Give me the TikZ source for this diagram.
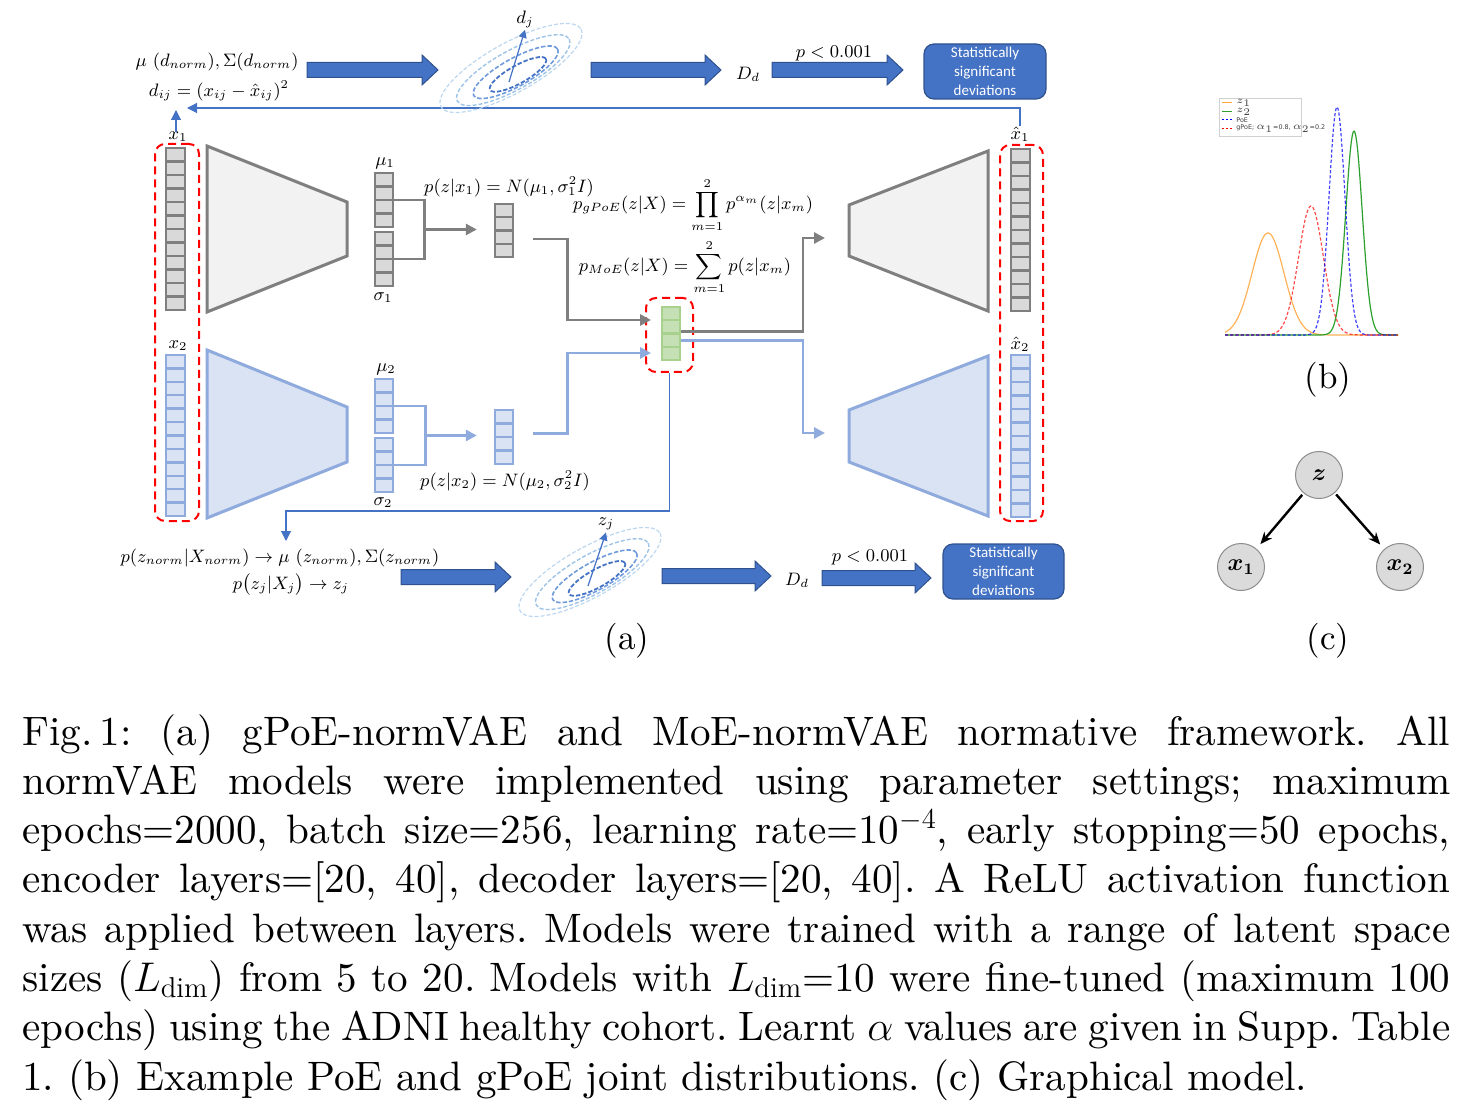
\documentclass[tikz,border=0pt]{standalone}
\usepackage{amsmath,bm}
\usepackage{fontspec}
\usetikzlibrary{arrows.meta,fit,calc}
\newfontfamily\boxfont{Carlito}
\newfontfamily\legfont{DejaVu Sans}
\newfontfamily\capfont{lmroman10-regular.otf}
\definecolor{gline}{HTML}{7F7F7F}
\definecolor{gcell}{HTML}{D9D9D9}
\definecolor{gtrap}{HTML}{F2F2F2}
\definecolor{bline}{HTML}{8FAADC}
\definecolor{bcell}{HTML}{DAE3F3}
\definecolor{gnfill}{HTML}{C5E0B4}
\definecolor{gnline}{HTML}{A9D18E}
\definecolor{accent}{HTML}{4472C4}
\definecolor{accentdk}{HTML}{2F528F}
\definecolor{ellA}{HTML}{BDD7EE}
\definecolor{ellB}{HTML}{9DC3E6}
\definecolor{ellC}{HTML}{6F9BDC}
\definecolor{corange}{HTML}{FFA53A}
\definecolor{cgreen}{HTML}{2CA02C}
\newcommand\cellcol[7]{%
  \node[#7, inner sep=0pt, fit={(#2,#3)(#4,#5)}] (#1) {};
  \pgfmathsetmacro\cdy{(#5-#3)/(#6+1)}
  \foreach \k in {1,...,#6} {\draw[#7] (#2,{#3+\k*\cdy}) -- (#4,{#3+\k*\cdy});}
}
\newcommand\blockarrow[3]{%
  \filldraw[bigarr] (#1,#3-7.5) -- (#2-16,#3-7.5) -- (#2-16,#3-15) -- (#2,#3)
    -- (#2-16,#3+15) -- (#2-16,#3+7.5) -- (#1,#3+7.5) -- cycle;}
\newcommand\ellgroup[2]{%
  \begin{scope}[rotate around={29:(#1,#2)}]
    \draw[ellA, line width=0.6pt, dash pattern=on 2pt off 1pt] (#1,#2) ellipse[x radius=80, y radius=25];
    \draw[ellB, line width=0.7pt, dash pattern=on 2pt off 1pt] (#1+1,#2+3) ellipse[x radius=64, y radius=19.5];
    \draw[ellC, line width=0.8pt, dash pattern=on 2.2pt off 1pt] (#1+2,#2+6) ellipse[x radius=48, y radius=14];
    \draw[accent, line width=0.9pt, dash pattern=on 2.2pt off 1pt] (#1+3,#2+9) ellipse[x radius=32, y radius=9];
  \end{scope}}
\begin{document}
\begin{tikzpicture}[x=0.5pt,y=-0.5pt,
  gcellst/.style={draw=gline, fill=gcell, line width=1.2pt},
  bcellst/.style={draw=bline, fill=bcell, line width=1.2pt},
  zcellst/.style={draw=gnline, fill=gnfill, line width=1.2pt},
  gtrapst/.style={draw=gline, fill=gtrap, line width=1.5pt, line join=miter},
  btrapst/.style={draw=bline, fill=bcell, line width=1.5pt, line join=miter},
  redbox/.style={draw=red, dash pattern=on 4pt off 2.5pt, line width=1pt, rounded corners=5pt},
  garrow/.style={draw=gline, line width=1.4pt, -{Triangle[length=5.5pt,width=5.5pt]}},
  barrow/.style={draw=bline, line width=1.4pt, -{Triangle[length=5.5pt,width=5.5pt]}},
  gconn/.style={draw=gline, line width=1.4pt},
  bconn/.style={draw=bline, line width=1.4pt},
  thinarrow/.style={draw=accent, line width=0.55pt, -{Triangle[length=5pt,width=5pt]}},
  lbl/.style={inner sep=0pt, font=\fontsize{9}{10.8}\selectfont},
  bigarr/.style={fill=accent, draw=accentdk, line width=0.5pt},
  sigbox/.style={rectangle, rounded corners=5pt, fill=accent, draw=accentdk, line width=0.6pt,
    text=white, align=center, inner sep=0pt, font=\boxfont\fontsize{7.5}{9.5}\selectfont},
  smallarr/.style={draw=accent, line width=0.6pt, -{Triangle[length=4pt,width=4pt]}},
  gmnode/.style={circle, minimum size=23.5pt, inner sep=0pt, fill=black!14, draw=black!45, line width=0.5pt,
    font=\fontsize{12}{14}\selectfont},
  gmarrow/.style={line width=1.2pt, -{Stealth[length=6pt,width=5pt]}, shorten >=3pt, shorten <=1pt},
  plbl/.style={inner sep=0pt, font=\capfont\fontsize{17.5}{20}\selectfont},
  legtxt/.style={inner sep=0pt, anchor=west, text=black!75, font=\legfont\fontsize{3.2}{4}\selectfont}
]
\useasboundingbox (0,0) rectangle (1472,1117);

% ---------------- red dashed groups ----------------
\node[redbox, inner sep=0pt, fit={(155,144)(199,521)}] (inbox) {};
\node[redbox, inner sep=0pt, fit={(1000,145)(1043,521)}] (outbox) {};

% ---------------- encoders ----------------
\draw[gtrapst] (207,146) -- (347,202) -- (347,256) -- (207,312) -- cycle;
\draw[btrapst] (207,350) -- (347,407) -- (347,462) -- (207,518) -- cycle;
% ---------------- decoders ----------------
\draw[gtrapst] (849,205) -- (988,151) -- (988,311) -- (849,256) -- cycle;
\draw[btrapst] (849,410) -- (988,356) -- (988,516) -- (849,462) -- cycle;

% ---------------- columns ----------------
\cellcol{x1c}{166}{148}{185}{310}{11}{gcellst}
\cellcol{x2c}{166}{355}{185}{516}{11}{bcellst}
\cellcol{mu1}{375}{173}{393}{227}{3}{gcellst}
\cellcol{sg1}{375}{232}{393}{286}{3}{gcellst}
\cellcol{z1s}{495}{204}{513}{257}{3}{gcellst}
\cellcol{mu2}{375}{379}{393}{433}{3}{bcellst}
\cellcol{sg2}{375}{438}{393}{492}{3}{bcellst}
\cellcol{z2s}{495}{410}{513}{464}{3}{bcellst}
\cellcol{zl}{662}{307}{680}{360}{3}{zcellst}
\cellcol{xh1c}{1011}{149}{1030}{311}{11}{gcellst}
\cellcol{xh2c}{1011}{355}{1030}{517}{11}{bcellst}
\node[redbox, inner sep=0pt, fit={(646,298)(693,372)}] (zbox) {};

% ---------------- labels ----------------
\node[lbl] (x1l) at (178,137) {$x_1$};
\node[lbl] (x2l) at (178,346) {$x_2$};
\node[lbl] (xh1l) at (1020,134) {$\hat{x}_1$};
\node[lbl] (xh2l) at (1020,344) {$\hat{x}_2$};
\node[lbl] (mu1l) at (385,163) {$\mu_1$};
\node[lbl] (sg1l) at (383,298) {$\sigma_1$};
\node[lbl] (mu2l) at (386,369) {$\mu_2$};
\node[lbl] (sg2l) at (383,503) {$\sigma_2$};

% ---------------- brackets ----------------
\draw[gconn] (mu1.east) -- ++(30,0) coordinate (b1) |- (sg1.east);
\coordinate (b1m) at ($(b1)!0.5!(b1 |- sg1.east)$);
\draw[garrow, shorten >=8.5pt] (b1m) -- (b1m -| z1s.west);
\draw[bconn] (mu2.east) -- ++(31,0) coordinate (b2) |- (sg2.east);
\coordinate (b2m) at ($(b2)!0.5!(b2 |- sg2.east)$);
\draw[barrow, shorten >=8.5pt] (b2m) -- (b2m -| z2s.west);

% ---------------- formulas ----------------
\node[lbl] (fz1) at (509,187) {$p(z|x_1) = N(\mu_1,\sigma_1^2 I)$};
\node[lbl] (fz2) at (505,481) {$p(z|x_2) = N(\mu_2,\sigma_2^2 I)$};
\node[lbl] (fgpoe) at (693,205) {$\displaystyle p_{gPoE}(z|X) = \prod_{m=1}^{2} p^{\alpha_m}(z|x_m)$};
\node[lbl] (fmoe) at (685,267) {$\displaystyle p_{MoE}(z|X) = \sum_{m=1}^{2} p(z|x_m)$};

% ---------------- paths to latent ----------------
\draw[garrow] ([xshift=9.5pt,yshift=-4.25pt]z1s.east) -- ++(34,0) |- ([xshift=3pt,yshift=7.5pt]zbox.west);
\draw[barrow] ([xshift=9.5pt,yshift=1.75pt]z2s.east) -- ++(34,0) |- ([xshift=3pt,yshift=-9pt]zbox.west);
\coordinate (t1) at (803,238);
\coordinate (d1in) at (825,238);
\coordinate (t2) at (803,433);
\coordinate (d2in) at (825,433);
\draw[garrow] ([yshift=1pt]zl.east) -| (t1) -- (d1in);
\draw[barrow] ([yshift=-3.5pt]zl.east) -| (t2) -- (d2in);

% ---------------- feedback lines ----------------
\coordinate (fbtip) at (187,108);
\draw[thinarrow] (xh1l.north) |- (fbtip);
\coordinate (x1tip) at (176,110);
\draw[thinarrow] (x1l.north -| x1tip) -- (x1tip);
\coordinate (lb) at (286,511);
\coordinate (fbend) at (286,541);
\draw[thinarrow] (zbox.south) |- (lb) -- (fbend);

% ---------------- top row ----------------
\node[lbl] (ftop1) at (217,62) {$\mu\ (d_{norm}), \Sigma(d_{norm})$};
\node[lbl] (ftop2) at (219,91) {$d_{ij} = (x_{ij} - \hat{x}_{ij})^2$};
\blockarrow{307}{438}{70}
\ellgroup{511}{68}
\coordinate (dj0) at (509,82);
\node[lbl] (djl) at (525,19) {$d_j$};
\draw[smallarr] (dj0) -- ([yshift=-1pt]djl.south);
\blockarrow{591}{721}{70}
\node[lbl] (dd1) at (748,74) {$D_d$};
\blockarrow{772}{903}{70}
\node[lbl] (pv1) at (834,53) {$p < 0.001$};
\node[sigbox, minimum width=61pt, minimum height=27.5pt] (sb1) at (985,71.5) {Statistically\\significant\\deviations};

% ---------------- bottom row ----------------
\node[lbl] (fb1) at (280,558) {$p(z_{norm}|X_{norm}) \rightarrow \mu\ (z_{norm}), \Sigma(z_{norm})$};
\node[lbl] (fb2) at (291,585) {$p\big(z_j|X_j\big) \rightarrow z_j$};
\blockarrow{401}{511}{577}
\ellgroup{590}{572}
\coordinate (zj0) at (588,586);
\node[lbl] (zjl) at (606,524) {$z_j$};
\draw[smallarr] (zj0) -- ([yshift=-1pt]zjl.south);
\blockarrow{662}{771}{576}
\node[lbl] (dd2) at (797,580) {$D_d$};
\blockarrow{822}{931}{578}
\node[lbl] (pv2) at (870,557) {$p < 0.001$};
\node[sigbox, minimum width=60.5pt, minimum height=27.5pt] (sb2) at (1003.5,571.5) {Statistically\\significant\\deviations};

% ---------------- panel labels ----------------
\node[plbl] (la) at (627,641) {(a)};
\node[plbl] (lbb) at (1328,380) {(b)};
\node[plbl] (lc) at (1328,641) {(c)};

% ---------------- panel (b) plot ----------------
\draw[corange, line width=0.6pt, opacity=0.85] plot[domain=1225:1398, samples=160]
  (\x, {335 - 102*exp(-min(0.5*((\x-1268)/16)^2, 14))});
\draw[cgreen, line width=0.6pt] plot[domain=1225:1398, samples=160]
  (\x, {335 - 204*exp(-min(0.5*((\x-1354)/8.2)^2, 14))});
\draw[red, line width=0.6pt, opacity=0.7, dash pattern=on 1.6pt off 1pt] plot[domain=1225:1398, samples=160]
  (\x, {335 - 129*exp(-min(0.5*((\x-1311)/12.4)^2, 14))});
\draw[blue, line width=0.6pt, opacity=0.75, dash pattern=on 1.6pt off 1pt] plot[domain=1225:1398, samples=200]
  (\x, {335 - 228*exp(-min(0.5*((\x-1337)/8)^2, 14))});
\node[draw=black!18, line width=0.3pt, fill=white, inner sep=0pt, minimum width=41pt, minimum height=19pt, anchor=north west] (leg) at (1219,98) {};
\draw[corange, line width=0.5pt] (1222,103) -- (1232,103);
\node[legtxt] (lg1) at (1236,103) {$z_1$};
\draw[cgreen, line width=0.5pt] (1222,112) -- (1232,112);
\node[legtxt] (lg2) at (1236,112) {$z_2$};
\draw[blue, line width=0.5pt, dash pattern=on 1.2pt off 0.8pt] (1222,120) -- (1232,120);
\node[legtxt] (lg3) at (1236,120) {PoE};
\draw[red, line width=0.5pt, dash pattern=on 1.2pt off 0.8pt] (1222,129) -- (1232,129);
\node[legtxt] (lg4) at (1236,129) {gPoE; $\alpha_1$=0.8, $\alpha_2$=0.2};

% ---------------- panel (c) graphical model ----------------
\node[gmnode] (gz) at (1319,475) {$\bm{z}$};
\node[gmnode] (gx1) at (1241,567) {$\bm{x_1}$};
\node[gmnode] (gx2) at (1400,567) {$\bm{x_2}$};
\draw[gmarrow] (gz) -- (gx1);
\draw[gmarrow] (gz) -- (gx2);

% ---------------- caption ----------------
\node[anchor=base west, inner sep=0pt] (cap) at (22,745) {\parbox[t]{714pt}{\capfont\fontsize{20.55}{24.65}\selectfont\frenchspacing\tolerance=10000
Fig.\,1: (a) gPoE-normVAE and MoE-normVAE normative framework. All\linebreak
normVAE models were implemented using parameter settings; maximum\linebreak
epochs=2000, batch size=256, learning rate=10$^{-4}$, early stopping=50 epochs,\linebreak
encoder layers=[20, 40], decoder layers=[20, 40]. A ReLU activation function\linebreak
was applied between layers. Models were trained with a range of latent space\linebreak
sizes ($L_{\mathrm{dim}}$) from 5 to 20. Models with $L_{\mathrm{dim}}$=10 were fine-tuned (maximum 100\linebreak
epochs) using the ADNI healthy cohort. Learnt $\alpha$ values are given in Supp. Table\linebreak
1. (b) Example PoE and gPoE joint distributions. (c) Graphical model.}};
\end{tikzpicture}
\end{document}
